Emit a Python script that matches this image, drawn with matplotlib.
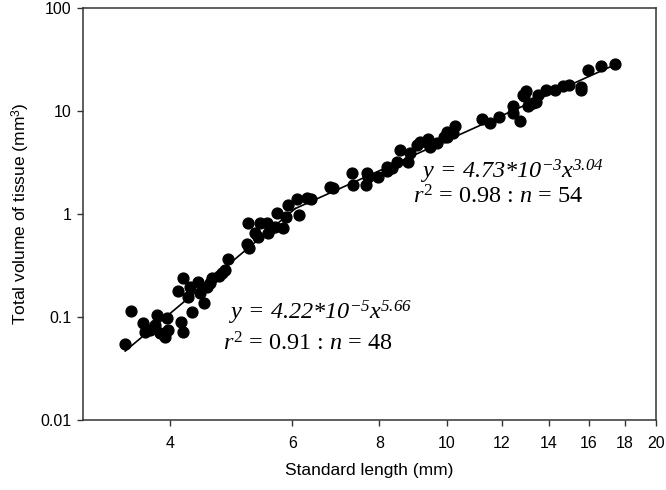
import numpy as np
import matplotlib
matplotlib.use('Agg')
import matplotlib.pyplot as plt
from matplotlib.ticker import FixedLocator, FixedFormatter, NullLocator

plt.rcParams['font.family'] = 'Liberation Sans'
plt.rcParams['mathtext.fontset'] = 'custom'
plt.rcParams['mathtext.rm'] = 'Liberation Serif'
plt.rcParams['mathtext.it'] = 'Liberation Serif:italic'
# \mathbf is used as "italic incl. digits" (mathit forces digits upright)
plt.rcParams['mathtext.bf'] = 'Liberation Serif:italic'
plt.rcParams['mathtext.sf'] = 'Liberation Sans'

# standard length (mm) and total tissue volume (mm^3)
small_x = [3.45, 3.52, 3.66, 3.68, 3.74, 3.83, 3.81, 3.87, 3.94, 3.96, 3.98,
           4.15, 4.17, 4.11, 4.18, 4.28, 4.31, 4.25, 4.39, 4.47, 4.42, 4.52,
           4.60, 4.57, 4.75, 4.70, 4.80, 4.84, 5.17, 5.20, 5.18, 5.30, 5.36,
           5.39, 5.52, 5.54, 5.58, 5.67, 5.70, 5.82, 5.88, 5.92, 6.10, 6.14,
           6.30, 6.37]
small_y = [0.0547, 0.114, 0.0875, 0.0715, 0.0748, 0.1045, 0.0836, 0.070, 0.064,
           0.0978, 0.0748, 0.0894, 0.0715, 0.179, 0.239, 0.196, 0.112, 0.156,
           0.219, 0.137, 0.171, 0.196, 0.239, 0.214, 0.267, 0.25, 0.286, 0.366,
           0.512, 0.468, 0.818, 0.654, 0.598, 0.818, 0.818, 0.654, 0.731, 0.748,
           1.02, 0.731, 0.935, 1.22, 1.40, 0.978, 1.43, 1.40]

large_x = [6.80, 6.87, 7.31, 7.34, 7.64, 7.69, 7.71, 7.95, 8.21, 8.35, 8.49,
           8.57, 8.78, 8.86, 9.07, 9.16, 9.38, 9.47, 9.69, 9.38, 9.89, 10.02,
           10.29, 10.22, 11.25, 11.55, 11.90, 12.43, 12.43, 12.72, 12.89, 12.98,
           13.06, 13.32, 13.41, 13.50, 13.89, 14.28, 14.67, 14.96, 15.57, 15.57,
           15.93, 16.63, 17.42, 12.85, 10.02, 8.21]
large_y = [1.83, 1.79, 2.50, 1.91, 1.91, 2.50, 2.29, 2.29, 2.86, 2.80, 3.20,
           4.18, 3.20, 3.91, 4.68, 5.00, 4.89, 4.47, 4.89, 5.35, 5.60, 6.25,
           7.15, 6.11, 8.36, 7.64, 8.75, 11.2, 9.57, 8.00, 14.0, 15.6, 11.2,
           12.0, 12.2, 14.3, 16.0, 16.0, 17.5, 17.9, 17.1, 16.0, 25.0, 27.4,
           28.6, 14.3, 5.6, 2.6]

# power-law fits printed on the chart
fit1 = (4.22e-5, 5.66)
fit2 = (4.73e-3, 3.04)
line_start, line_end = 3.45, 17.4

x_ticks = [4, 6, 8, 10, 12, 14, 16, 18, 20]
y_ticks = [0.01, 0.1, 1, 10, 100]
y_labels = ['0.01', '0.1', '1', '10', '100']

fig = plt.figure(figsize=(6.66, 4.90), dpi=100)
ax = fig.add_axes([0.1246, 0.1429, 0.8609, 0.8408])

# the two fits meet where a1*x^b1 == a2*x^b2
x_break = (fit2[0] / fit1[0]) ** (1.0 / (fit1[1] - fit2[1]))
xa = np.linspace(line_start, x_break, 50)
xb = np.linspace(x_break, line_end, 100)
ax.plot(xa, fit1[0] * xa ** fit1[1], color='black', lw=1.2, zorder=2)
ax.plot(xb, fit2[0] * xb ** fit2[1], color='black', lw=1.2, zorder=2)

ax.plot(small_x, small_y, 'o', color='black', ms=7.8, zorder=3)
ax.plot(large_x, large_y, 'o', color='black', ms=7.8, zorder=3)

ax.set_xscale('log')
ax.set_yscale('log')
ax.set_xlim(3, 20)
ax.set_ylim(0.01, 100)

ax.xaxis.set_major_locator(FixedLocator(x_ticks))
ax.xaxis.set_major_formatter(FixedFormatter([str(t) for t in x_ticks]))
ax.xaxis.set_minor_locator(NullLocator())
ax.yaxis.set_major_locator(FixedLocator(y_ticks))
ax.yaxis.set_major_formatter(FixedFormatter(y_labels))
ax.yaxis.set_minor_locator(NullLocator())

ax.tick_params(direction='out', length=4.5, width=1, labelsize=11.5,
               color='#333333', pad=4)
ax.tick_params(axis='x', pad=7)
for s in ax.spines.values():
    s.set_color('#333333')
    s.set_linewidth(1.1)

ax.set_xlabel('Standard length (mm)', fontsize=12.5, labelpad=9)
ax.set_ylabel(r'Total volume of tissue (mm$^\mathsf{3}$)', fontsize=12.5, labelpad=6)

eq_kw = dict(transform=ax.transAxes, fontsize=17.5, family='Liberation Serif',
             va='baseline', ha='left')
ax.text(0.253, 0.245, r'$\mathbf{y\,=\,4.22{*}10^{-5}x^{5.66}}$', **eq_kw)
ax.text(0.244, 0.168, r'$\mathit{r}^{2}$ = 0.91 : $\mathit{n}$ = 48', **eq_kw)
ax.text(0.588, 0.585, r'$\mathbf{y\,=\,4.73{*}10^{-3}x^{3.04}}$', **eq_kw)
ax.text(0.576, 0.525, r'$\mathit{r}^{2}$ = 0.98 : $\mathit{n}$ = 54', **eq_kw)

fig.savefig('out.png', dpi=100)
